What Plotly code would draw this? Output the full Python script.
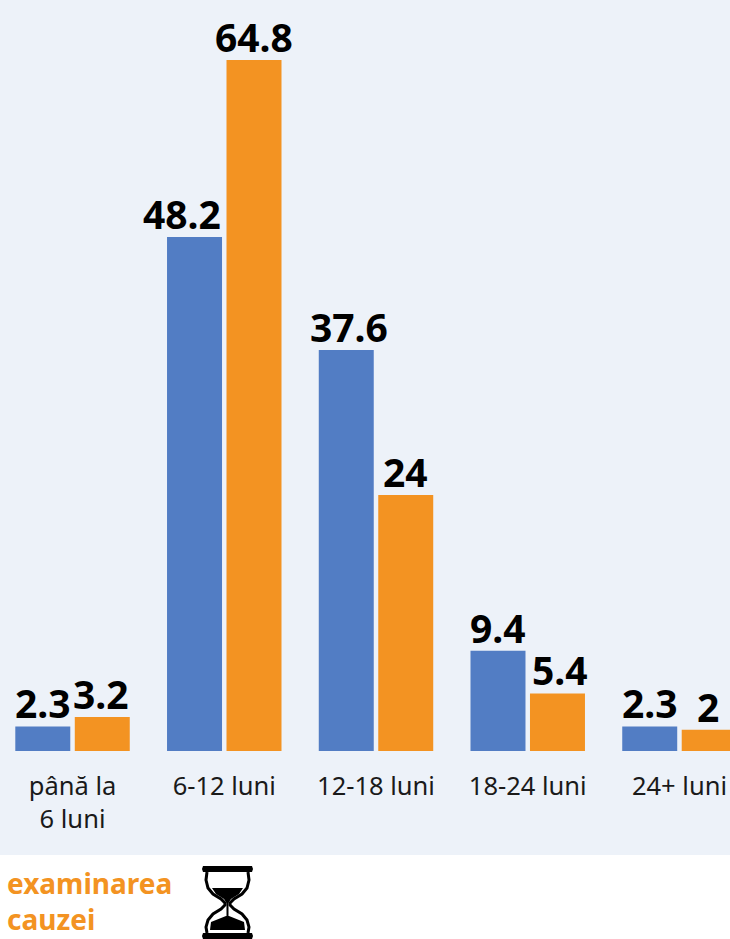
import plotly.graph_objects as go

categories = ["până la<br>6 luni", "6-12 luni", "12-18 luni", "18-24 luni", "24+ luni"]
series_blue = [2.3, 48.2, 37.6, 9.4, 2.3]
series_orange = [3.2, 64.8, 24, 5.4, 2]
BLUE = "#527dc4"
ORANGE = "#f39322"
W, H = 730, 939
LABEL_FONT = dict(family="Noto Sans", size=39, color="#000000", weight=700)
blue_label_shift = [0, -13, 3, 0, 0]
orange_label_shift = [-1, 0, 0, 3, -1]
BAR_CENTER = 0.196

fig = go.Figure()
for vals, col in ((series_blue, BLUE), (series_orange, ORANGE)):
    fig.add_bar(x=categories, y=vals, marker=dict(color=col, line_width=0), showlegend=False)

def value_labels(vals, side, shifts):
    return [dict(x=i + side * BAR_CENTER, y=v, xref="x", yref="y", xanchor="center", yanchor="bottom",
                 text=f"<b>{v:g}</b>", showarrow=False, xshift=s, yshift=-3, font=LABEL_FONT,
                 borderpad=0, borderwidth=0)
            for i, (v, s) in enumerate(zip(vals, shifts))]

def px(x): return x / W
def py(y): return 1 - y / H

def hourglass():
    s = []
    k = "#000000"
    ref = dict(xref="paper", yref="paper", layer="above")
    def path(d, fill=k, line=None, lw=0):
        s.append(dict(type="path", path=d, fillcolor=fill,
                      line=dict(color=line or fill, width=lw), **ref))
    def P(pts, close=True):
        return "M " + " L ".join(f"{px(a):.5f},{py(b):.5f}" for a, b in pts) + (" Z" if close else "")
    path(P([(203, 866), (252, 866), (253, 869), (252, 872), (203, 872), (202, 869)]))
    path(P([(203, 933), (252, 933), (253, 936), (252, 939), (203, 939), (202, 936)]))
    outline = [(207, 872), (206, 880), (208, 888), (213, 894), (221, 899), (225, 903), (225, 905),
               (221, 909), (213, 914), (208, 920), (206, 927), (207, 933)]
    path(P(outline, False), fill="rgba(0,0,0,0)", line=k, lw=3)
    path(P([(2 * 227.5 - a, b) for a, b in outline], False), fill="rgba(0,0,0,0)", line=k, lw=3)
    path(P([(212, 888), (243, 888), (239, 894), (231, 899), (228.5, 903), (226.5, 903), (224, 899), (216, 894)]))
    path(P([(226.5, 903), (228.5, 903), (228.5, 917), (226.5, 917)]))
    path(P([(210, 930), (211, 922), (226, 916), (229, 916), (244, 922), (245, 930)]))
    return s

bg = dict(type="rect", xref="paper", yref="paper", x0=0, x1=1, y0=py(855), y1=1,
          fillcolor="#edf2f9", line_width=0, layer="below")

fig.update_layout(
    width=W, height=H, autosize=False,
    margin=dict(l=0, r=0, t=0, b=0),
    paper_bgcolor="#ffffff", plot_bgcolor="rgba(0,0,0,0)",
    barmode="group", bargap=0.216, bargroupgap=0.0756,
    shapes=[bg] + hourglass(),
    xaxis=dict(range=[-0.478, 4.333], showgrid=False, zeroline=False, showline=False,
               ticks="outside", ticklen=12, tickcolor="rgba(0,0,0,0)",
               tickfont=dict(family="Noto Sans", size=25.5, color="#1a1a1a"), tickangle=0),
    yaxis=dict(domain=[py(751), 1], range=[0, 751 / 10.664], visible=False),
    annotations=value_labels(series_blue, -1, blue_label_shift)
    + value_labels(series_orange, 1, orange_label_shift)
    + [dict(xref="paper", yref="paper", x=px(5), y=py(901), xanchor="left", yanchor="middle",
            text="<b>examinarea<br>cauzei</b>", align="left", showarrow=False,
            font=dict(family="Noto Sans", size=28, color=ORANGE))],
)
fig.write_html("out.html", config=dict(displayModeBar=False),
               post_script="document.body.style.margin='0';document.documentElement.style.overflow='hidden';")
